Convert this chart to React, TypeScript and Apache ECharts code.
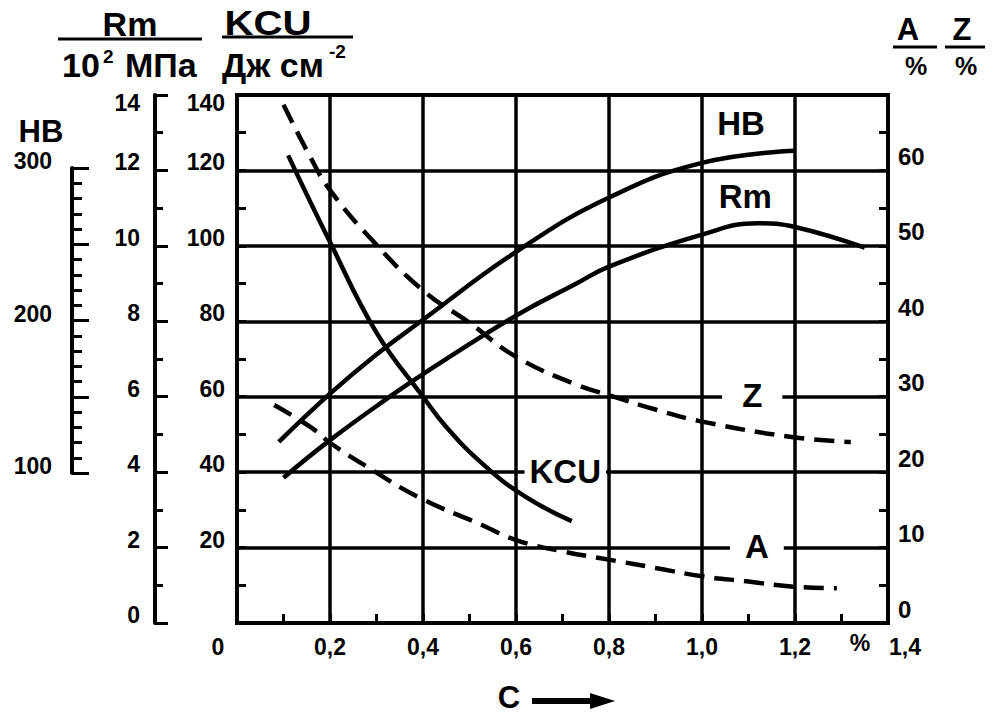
import React, { useEffect, useRef } from "react";
import * as echarts from "echarts";

// Carbon content, %  (x axis)
const X_TICKS = [0, 0.2, 0.4, 0.6, 0.8, 1.0, 1.2, 1.4];

// HB (Brinell hardness)
const HB_X = [0.09, 0.2, 0.3, 0.4, 0.6, 0.8, 1.0, 1.2];
const HB_Y = [120, 152, 178, 201, 246, 282, 305, 313];

// Rm, 10^2 MPa
const RM_X = [0.1, 0.2, 0.34, 0.4, 0.6, 0.73, 0.8, 1.0, 1.12, 1.2, 1.35];
const RM_Y = [3.85, 4.85, 6.1, 6.6, 8.15, 9.0, 9.45, 10.3, 10.6, 10.5, 9.95];

// KCU, J/cm^2
const KCU_X = [0.11, 0.2, 0.3, 0.4, 0.45, 0.53, 0.62, 0.72];
const KCU_Y = [124, 101, 77, 60, 52, 42, 33.5, 27];

// Z, %
const Z_X = [0.1, 0.16, 0.2, 0.29, 0.4, 0.5, 0.6, 0.73, 0.8, 0.9, 1.0, 1.2, 1.32];
const Z_Y = [68.7, 61.5, 57.4, 50.8, 44.1, 39.8, 35.3, 31.6, 30.2, 28.3, 26.7, 24.6, 24.0];

// A, %
const A_X = [0.08, 0.16, 0.2, 0.28, 0.39, 0.53, 0.6, 0.7, 0.8, 0.9, 1.0, 1.1, 1.2, 1.29];
const A_Y = [28.9, 25.9, 23.9, 20.7, 16.7, 12.9, 11.0, 9.5, 8.4, 7.3, 6.2, 5.5, 4.8, 4.6];

const FONT = "'Liberation Sans', Arial, Helvetica, sans-serif";
const BLACK = "#000";

const zip = (xs: number[], ys: number[]) => xs.map((x, i) => [x, ys[i]]);

const tickStyle = { color: BLACK, width: 3 };

function curveLabel(text: string, coord: number[], pad: number[]) {
  return {
    symbol: "circle",
    symbolSize: 1,
    itemStyle: { color: "rgba(0,0,0,0)" },
    silent: true,
    data: [
      {
        coord,
        label: {
          show: true,
          position: "inside",
          formatter: text,
          color: BLACK,
          fontFamily: FONT,
          fontWeight: "bold",
          fontSize: 33,
          lineHeight: 30,
          backgroundColor: "#fff",
          padding: pad,
        },
      },
    ],
  };
}

function curve(name: string, xs: number[], ys: number[], yAxisIndex: number, dashed: boolean, mark: any) {
  return {
    name,
    type: "line",
    xAxisIndex: 0,
    yAxisIndex,
    data: zip(xs, ys),
    smooth: 0.45,
    symbol: "none",
    lineStyle: dashed ? { color: BLACK, width: 4.5, type: [20, 10] } : { color: BLACK, width: 4.5 },
    markPoint: mark,
  };
}

export default function App() {
  const ref = useRef<HTMLDivElement>(null);

  useEffect(() => {
    if (!ref.current) return;
    const chart = echarts.init(ref.current, undefined, { renderer: "svg" });

    const labelBase = {
      color: BLACK,
      fontFamily: FONT,
      fontWeight: "bold",
      fontSize: 23,
    };

    const option: any = {
      animation: false,
      backgroundColor: "#fff",
      grid: [
        {
          left: 237,
          top: 95,
          width: 651,
          height: 528,
          show: true,
          borderColor: BLACK,
          borderWidth: 4,
          backgroundColor: "transparent",
        },
        { left: 72, top: 168, width: 20, height: 305 },
      ],
      xAxis: [
        {
          type: "value",
          gridIndex: 0,
          position: "bottom",
          min: X_TICKS[0],
          max: X_TICKS[X_TICKS.length - 1],
          interval: 0.2,
          axisLine: { show: true, lineStyle: { color: BLACK, width: 4 } },
          axisTick: { show: true, inside: true, length: 9, lineStyle: tickStyle },
          minorTick: { show: true, splitNumber: 2, length: 9, lineStyle: tickStyle },
          splitLine: { show: true, lineStyle: { color: BLACK, width: 3.5 } },
          axisLabel: {
            ...labelBase,
            margin: 12,
            showMinLabel: true,
            showMaxLabel: true,
            formatter: (v: number) => {
              if (Math.abs(v) < 1e-9) return "{z|0}";
              if (Math.abs(v - 1.4) < 1e-9) return "{e|1,4}";
              return v.toFixed(1).replace(".", ",");
            },
            rich: {
              z: { ...labelBase, padding: [0, 38, 0, 0] },
              e: { ...labelBase, padding: [0, 0, 0, 34] },
            },
          },
        },
        { type: "value", gridIndex: 1, show: false, min: 0, max: 1 },
      ],
      yAxis: [
        {
          // KCU
          type: "value",
          gridIndex: 0,
          position: "left",
          min: 0,
          max: 140,
          interval: 20,
          axisLine: { show: true, lineStyle: { color: BLACK, width: 4 } },
          axisTick: { show: true, inside: true, length: 9, lineStyle: tickStyle },
          minorTick: { show: true, splitNumber: 2, length: 9, lineStyle: tickStyle },
          splitLine: { show: true, lineStyle: { color: BLACK, width: 3.5 } },
          axisLabel: {
            ...labelBase,
            margin: 12,
            verticalAlign: "bottom",
            verticalAlignMaxLabel: "top",
            lineHeight: 16,
            formatter: (v: number) => (v === 0 ? "" : String(v)),
          },
        },
        {
          // Rm
          type: "value",
          gridIndex: 0,
          position: "left",
          offset: 82,
          min: 0,
          max: 14,
          interval: 2,
          axisLine: { show: true, lineStyle: { color: BLACK, width: 4 } },
          axisTick: { show: true, inside: true, length: 13, lineStyle: tickStyle },
          minorTick: { show: true, splitNumber: 2, length: 8, lineStyle: tickStyle },
          splitLine: { show: false },
          axisLabel: {
            ...labelBase,
            margin: 15,
            verticalAlign: "bottom",
            verticalAlignMaxLabel: "top",
            lineHeight: 16,
          },
        },
        {
          // A, Z
          type: "value",
          gridIndex: 0,
          position: "right",
          min: 0,
          max: 70,
          interval: 10,
          axisLine: { show: true, lineStyle: { color: BLACK, width: 4 } },
          axisTick: { show: true, inside: true, length: 9, lineStyle: tickStyle },
          minorTick: { show: true, splitNumber: 2, length: 9, lineStyle: tickStyle },
          splitLine: { show: false },
          axisLabel: {
            ...labelBase,
            fontSize: 24,
            margin: 10,
            verticalAlign: "bottom",
            lineHeight: 28,
            formatter: (v: number) => (v === 70 ? "" : String(v)),
          },
        },
        {
          // HB, hidden scale aligned with the ruler
          type: "value",
          gridIndex: 0,
          min: 0,
          max: 350,
          show: false,
        },
        {
          // HB ruler
          type: "value",
          gridIndex: 1,
          position: "left",
          min: 100,
          max: 300,
          interval: 50,
          axisLine: { show: true, lineStyle: { color: BLACK, width: 4 } },
          axisTick: { show: true, inside: true, length: 17, lineStyle: tickStyle },
          minorTick: { show: true, splitNumber: 5, length: 10, lineStyle: tickStyle },
          splitLine: { show: false },
          axisLabel: {
            ...labelBase,
            margin: 20,
            verticalAlign: "bottom",
            lineHeight: 14,
            formatter: (v: number) => (v % 100 === 0 ? String(v) : ""),
          },
        },
      ],
      series: [
        curve("HB", HB_X, HB_Y, 3, false, curveLabel("HB", [1.084, 331], [0, 0])),
        curve("Rm", RM_X, RM_Y, 1, false, curveLabel("Rm", [1.093, 11.3], [0, 0])),
        curve("KCU", KCU_X, KCU_Y, 0, false, curveLabel("KCU", [0.706, 40.2], [0, 5])),
        curve("Z", Z_X, Z_Y, 2, true, curveLabel("Z", [1.108, 30.2], [0, 20])),
        curve("A", A_X, A_Y, 2, true, curveLabel("A", [1.118, 10.1], [0, 15])),
      ],
      graphic: [
        // Rm / 10^2 MPa
        {
          type: "text",
          x: 130,
          y: 24,
          style: {
            text: "Rm",
            font: `bold 34px ${FONT}`,
            fill: BLACK,
            align: "center",
            verticalAlign: "middle",
          },
        },
        { type: "line", shape: { x1: 58, y1: 39, x2: 202, y2: 39 }, style: { stroke: BLACK, lineWidth: 3 } },
        {
          type: "text",
          x: 62,
          y: 65,
          style: { text: "10", font: `bold 34px ${FONT}`, fill: BLACK, align: "left", verticalAlign: "middle" },
        },
        {
          type: "text",
          x: 103,
          y: 56,
          style: { text: "2", font: `bold 19px ${FONT}`, fill: BLACK, align: "left", verticalAlign: "middle" },
        },
        {
          type: "text",
          x: 125,
          y: 65,
          style: { text: "МПа", font: `bold 34px ${FONT}`, fill: BLACK, align: "left", verticalAlign: "middle" },
        },
        // KCU / Дж см^-2
        {
          type: "text",
          x: 268,
          y: 23,
          scaleX: 1.15,
          style: {
            text: "KCU",
            font: `bold 35px ${FONT}`,
            fill: BLACK,
            align: "center",
            verticalAlign: "middle",
          },
        },
        { type: "line", shape: { x1: 222, y1: 37, x2: 353, y2: 37 }, style: { stroke: BLACK, lineWidth: 3 } },
        {
          type: "text",
          x: 222,
          y: 65,
          style: { text: "Дж см", font: `bold 34px ${FONT}`, fill: BLACK, align: "left", verticalAlign: "middle" },
        },
        {
          type: "text",
          x: 329,
          y: 51,
          style: { text: "-2", font: `bold 19px ${FONT}`, fill: BLACK, align: "left", verticalAlign: "middle" },
        },
        // A / %
        {
          type: "text",
          x: 908,
          y: 29,
          style: { text: "A", font: `bold 31px ${FONT}`, fill: BLACK, align: "center", verticalAlign: "middle" },
        },
        { type: "line", shape: { x1: 893, y1: 47, x2: 937, y2: 47 }, style: { stroke: BLACK, lineWidth: 3 } },
        {
          type: "text",
          x: 916,
          y: 66,
          style: { text: "%", font: `bold 25px ${FONT}`, fill: BLACK, align: "center", verticalAlign: "middle" },
        },
        // Z / %
        {
          type: "text",
          x: 962,
          y: 29,
          style: { text: "Z", font: `bold 31px ${FONT}`, fill: BLACK, align: "center", verticalAlign: "middle" },
        },
        { type: "line", shape: { x1: 945, y1: 47, x2: 985, y2: 47 }, style: { stroke: BLACK, lineWidth: 3 } },
        {
          type: "text",
          x: 966,
          y: 66,
          style: { text: "%", font: `bold 25px ${FONT}`, fill: BLACK, align: "center", verticalAlign: "middle" },
        },
        // HB ruler title
        {
          type: "text",
          x: 41,
          y: 131,
          style: { text: "HB", font: `bold 31px ${FONT}`, fill: BLACK, align: "center", verticalAlign: "middle" },
        },
        // % unit on x axis
        {
          type: "text",
          x: 860,
          y: 643,
          style: { text: "%", font: `bold 23px ${FONT}`, fill: BLACK, align: "center", verticalAlign: "middle" },
        },
        // C -->
        {
          type: "text",
          x: 509,
          y: 697,
          style: { text: "C", font: `bold 31px ${FONT}`, fill: BLACK, align: "center", verticalAlign: "middle" },
        },
        {
          type: "line",
          shape: { x1: 532, y1: 701, x2: 596, y2: 701 },
          style: { stroke: BLACK, lineWidth: 6 },
        },
        {
          type: "polygon",
          shape: { points: [[590, 693], [615, 701], [590, 709]] },
          style: { fill: BLACK },
        },
      ],
    };

    chart.setOption(option);
    return () => chart.dispose();
  }, []);

  return (
    <div
      ref={ref}
      style={{ position: "fixed", left: 0, top: 0, width: 993, height: 716, background: "#fff" }}
    />
  );
}
